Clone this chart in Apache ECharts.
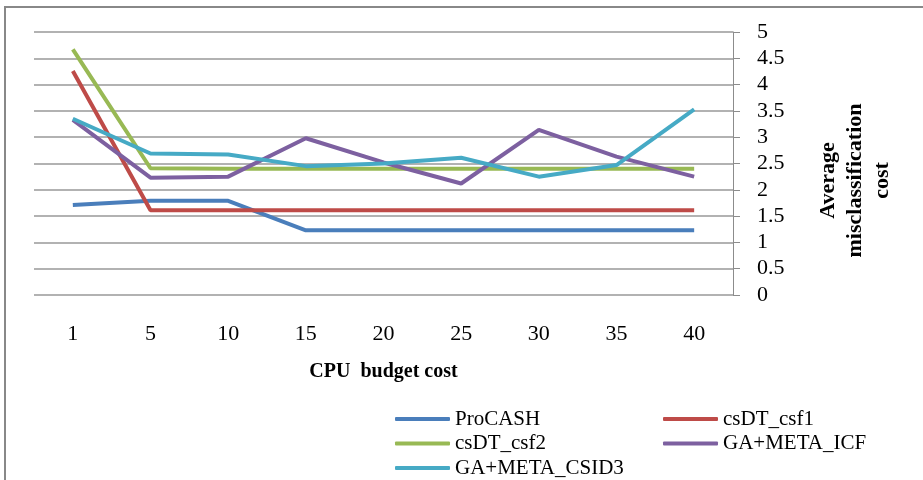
<!DOCTYPE html>
<html>
<head>
<meta charset="utf-8">
<script src="https://cdn.jsdelivr.net/npm/echarts@6/dist/echarts.min.js"></script>
<style>html,body{margin:0;padding:0;background:#fff;}#main{width:923px;height:480px;}</style>
</head>
<body>
<div id="main"></div>
<script>
var categories = ['1', '5', '10', '15', '20', '25', '30', '35', '40'];
var proCASH = [1.71, 1.79, 1.79, 1.23, 1.23, 1.23, 1.23, 1.23, 1.23];
var csDT_csf1 = [4.26, 1.61, 1.61, 1.61, 1.61, 1.61, 1.61, 1.61, 1.61];
var csDT_csf2 = [4.67, 2.41, 2.40, 2.40, 2.40, 2.40, 2.40, 2.40, 2.40];
var gaMetaICF = [3.33, 2.23, 2.25, 2.98, 2.52, 2.12, 3.14, 2.63, 2.25];
var gaMetaCSID3 = [3.35, 2.69, 2.67, 2.45, 2.50, 2.61, 2.25, 2.47, 3.53];
var seriesNames = ['ProCASH', 'csDT_csf1', 'csDT_csf2', 'GA+META_ICF', 'GA+META_CSID3'];
var colors = ['#4A7EBB', '#BE4B48', '#98B954', '#7D60A0', '#46AAC5'];

var font = '"Liberation Serif", "Times New Roman", serif';
var chart = echarts.init(document.getElementById('main'));
var seriesData = [proCASH, csDT_csf1, csDT_csf2, gaMetaICF, gaMetaCSID3];

var legendCommon = {
  orient: 'vertical',
  icon: 'roundRect',
  itemWidth: 55,
  itemHeight: 4,
  itemGap: 0.5,
  height: 120,
  padding: 0,
  textStyle: { fontFamily: font, fontSize: 21, color: '#000', lineHeight: 24 },
  top: 407
};

chart.setOption({
  animation: false,
  backgroundColor: '#fff',
  color: colors,
  graphic: [{
    type: 'rect',
    shape: { x: 5, y: 7, width: 940, height: 500 },
    style: { fill: 'none', stroke: '#888', lineWidth: 2 },
    silent: true,
    z: -1
  }],
  grid: { left: 34, right: 190, top: 32, bottom: 185 },
  legend: [
    Object.assign({ left: 395, data: ['ProCASH', 'csDT_csf2', 'GA+META_CSID3'] }, legendCommon),
    Object.assign({ left: 663, data: ['csDT_csf1', 'GA+META_ICF'] }, legendCommon)
  ],
  xAxis: {
    type: 'category',
    data: categories,
    boundaryGap: true,
    axisLine: { show: false },
    axisTick: { show: false },
    axisLabel: { fontFamily: font, fontSize: 22, color: '#000', margin: 28 },
    name: 'CPU  budget cost',
    nameLocation: 'middle',
    nameGap: 67,
    nameTextStyle: { fontFamily: font, fontSize: 20, fontWeight: 'bold', color: '#000' }
  },
  yAxis: {
    type: 'value',
    position: 'right',
    min: 0,
    max: 5,
    interval: 0.5,
    axisLine: { show: true, lineStyle: { color: '#8c8c8c', width: 1 } },
    axisTick: { show: true, inside: false, length: 7, lineStyle: { color: '#8c8c8c' } },
    splitLine: { show: true, lineStyle: { color: '#999999', width: 1.5 } },
    axisLabel: { fontFamily: font, fontSize: 22, color: '#000', margin: 24 },
    name: 'Average\nmisclassification\ncost',
    nameLocation: 'middle',
    nameGap: 82,
    nameTextStyle: { fontFamily: font, fontSize: 22, fontWeight: 'bold', color: '#000', lineHeight: 27, align: 'center', padding: [0, 34, 0, 0] }
  },
  series: seriesNames.map(function (n, i) {
    return {
      name: n,
      type: 'line',
      data: seriesData[i],
      showSymbol: false,
      symbol: 'none',
      lineStyle: { width: 4, color: colors[i] },
      itemStyle: { color: colors[i] }
    };
  })
});
</script>
</body>
</html>
